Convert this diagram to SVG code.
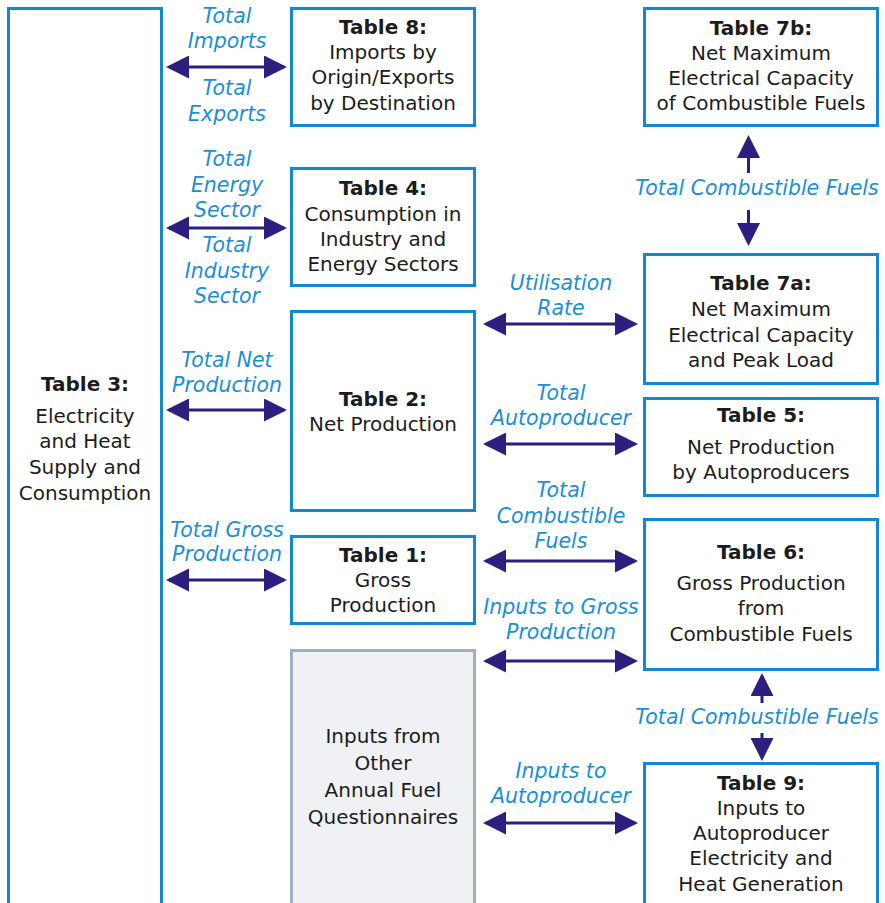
<svg xmlns="http://www.w3.org/2000/svg" width="885" height="903" viewBox="0 0 885 903">
<defs>
<style>
.box{fill:#ffffff;stroke:#0f89d2;stroke-width:3}
.gbox{fill:#eff1f5;stroke:#a2aec8;stroke-width:3}
.t{font-family:"DejaVu Sans",sans-serif;font-size:20px;fill:#1c1c1c;text-anchor:middle}
.b{font-weight:bold}
.l{font-family:"DejaVu Sans",sans-serif;font-size:20.5px;font-style:italic;fill:#1a8fd6;text-anchor:middle}
.c{stroke:#2c1f80;stroke-width:3;fill:none}
</style>
<marker id="ah" markerUnits="userSpaceOnUse" markerWidth="23" markerHeight="23" refX="20" refY="11.5" orient="auto-start-reverse" viewBox="0 0 23 23">
<path d="M0,0 L23,11.5 L0,23 z" fill="#2c1f80"/>
</marker>
</defs>
<rect width="885" height="903" fill="#ffffff"/>

<g id="table3">
<rect class="box" x="8.5" y="8.5" width="153" height="900"/>
<text class="t b" x="85" y="391">Table 3:</text>
<text class="t" x="85" y="423">Electricity</text>
<text class="t" x="85" y="448">and Heat</text>
<text class="t" x="85" y="474">Supply and</text>
<text class="t" x="85" y="500">Consumption</text>
</g>

<g id="table8">
<rect class="box" x="291.5" y="8.5" width="183" height="117"/>
<text class="t b" x="383" y="34">Table 8:</text>
<text class="t" x="383" y="59">Imports by</text>
<text class="t" x="383" y="84">Origin/Exports</text>
<text class="t" x="383" y="110">by Destination</text>
</g>

<g id="table4">
<rect class="box" x="291.5" y="168.5" width="183" height="117"/>
<text class="t b" x="383" y="195">Table 4:</text>
<text class="t" x="383" y="221">Consumption in</text>
<text class="t" x="383" y="246">Industry and</text>
<text class="t" x="383" y="271">Energy Sectors</text>
</g>

<g id="table2">
<rect class="box" x="291.5" y="311.5" width="183" height="199"/>
<text class="t b" x="383" y="406">Table 2:</text>
<text class="t" x="383" y="431">Net Production</text>
</g>

<g id="table1">
<rect class="box" x="291.5" y="536.5" width="183" height="87"/>
<text class="t b" x="383" y="562">Table 1:</text>
<text class="t" x="383" y="587">Gross</text>
<text class="t" x="383" y="612">Production</text>
</g>

<g id="inputs-other">
<rect class="gbox" x="291.5" y="650.5" width="183" height="260"/>
<text class="t" x="383" y="743">Inputs from</text>
<text class="t" x="383" y="770">Other</text>
<text class="t" x="383" y="797">Annual Fuel</text>
<text class="t" x="383" y="824">Questionnaires</text>
</g>

<g id="table7b">
<rect class="box" x="644.5" y="8.5" width="233" height="117"/>
<text class="t b" x="761" y="35">Table 7b:</text>
<text class="t" x="761" y="60">Net Maximum</text>
<text class="t" x="761" y="85">Electrical Capacity</text>
<text class="t" x="761" y="110">of Combustible Fuels</text>
</g>

<g id="table7a">
<rect class="box" x="644.5" y="254.5" width="233" height="129"/>
<text class="t b" x="761" y="290">Table 7a:</text>
<text class="t" x="761" y="316">Net Maximum</text>
<text class="t" x="761" y="342">Electrical Capacity</text>
<text class="t" x="761" y="367">and Peak Load</text>
</g>

<g id="table5">
<rect class="box" x="644.5" y="398.5" width="233" height="97"/>
<text class="t b" x="761" y="422">Table 5:</text>
<text class="t" x="761" y="454">Net Production</text>
<text class="t" x="761" y="479">by Autoproducers</text>
</g>

<g id="table6">
<rect class="box" x="644.5" y="519.5" width="233" height="150"/>
<text class="t b" x="761" y="559">Table 6:</text>
<text class="t" x="761" y="590">Gross Production</text>
<text class="t" x="761" y="615">from</text>
<text class="t" x="761" y="641">Combustible Fuels</text>
</g>

<g id="table9">
<rect class="box" x="644.5" y="763.5" width="233" height="150"/>
<text class="t b" x="761" y="790">Table 9:</text>
<text class="t" x="761" y="815">Inputs to</text>
<text class="t" x="761" y="840">Autoproducer</text>
<text class="t" x="761" y="865">Electricity and</text>
<text class="t" x="761" y="891">Heat Generation</text>
</g>

<g id="connectors">
<line class="c" x1="169" y1="67" x2="284" y2="67" marker-start="url(#ah)" marker-end="url(#ah)"/>
<line class="c" x1="169" y1="228" x2="284" y2="228" marker-start="url(#ah)" marker-end="url(#ah)"/>
<line class="c" x1="169" y1="410" x2="284" y2="410" marker-start="url(#ah)" marker-end="url(#ah)"/>
<line class="c" x1="169" y1="580" x2="284" y2="580" marker-start="url(#ah)" marker-end="url(#ah)"/>
<line class="c" x1="486" y1="324" x2="635" y2="324" marker-start="url(#ah)" marker-end="url(#ah)"/>
<line class="c" x1="486" y1="444" x2="635" y2="444" marker-start="url(#ah)" marker-end="url(#ah)"/>
<line class="c" x1="486" y1="561" x2="635" y2="561" marker-start="url(#ah)" marker-end="url(#ah)"/>
<line class="c" x1="486" y1="661" x2="635" y2="661" marker-start="url(#ah)" marker-end="url(#ah)"/>
<line class="c" x1="486" y1="823" x2="635" y2="823" marker-start="url(#ah)" marker-end="url(#ah)"/>
<line class="c" x1="748.5" y1="173" x2="748.5" y2="138" marker-end="url(#ah)"/>
<line class="c" x1="748.5" y1="210" x2="748.5" y2="243" marker-end="url(#ah)"/>
<line class="c" x1="762" y1="703" x2="762" y2="676" marker-end="url(#ah)"/>
<line class="c" x1="762" y1="733" x2="762" y2="758" marker-end="url(#ah)"/>

<text class="l" x="227" y="23">Total</text>
<text class="l" x="227" y="48">Imports</text>
<text class="l" x="227" y="95">Total</text>
<text class="l" x="227" y="121">Exports</text>
<text class="l" x="227" y="166">Total</text>
<text class="l" x="227" y="192">Energy</text>
<text class="l" x="227" y="217">Sector</text>
<text class="l" x="227" y="252">Total</text>
<text class="l" x="227" y="278">Industry</text>
<text class="l" x="227" y="303">Sector</text>
<text class="l" x="227" y="367">Total Net</text>
<text class="l" x="227" y="392">Production</text>
<text class="l" x="227" y="537">Total Gross</text>
<text class="l" x="227" y="561">Production</text>
<text class="l" x="561" y="290">Utilisation</text>
<text class="l" x="561" y="315">Rate</text>
<text class="l" x="561" y="400">Total</text>
<text class="l" x="561" y="425">Autoproducer</text>
<text class="l" x="561" y="497">Total</text>
<text class="l" x="561" y="523">Combustible</text>
<text class="l" x="561" y="548">Fuels</text>
<text class="l" x="561" y="614">Inputs to Gross</text>
<text class="l" x="561" y="639">Production</text>
<text class="l" x="561" y="778">Inputs to</text>
<text class="l" x="561" y="803">Autoproducer</text>
<text class="l" x="757" y="195">Total Combustible Fuels</text>
<text class="l" x="757" y="724">Total Combustible Fuels</text>
</g>
</svg>
